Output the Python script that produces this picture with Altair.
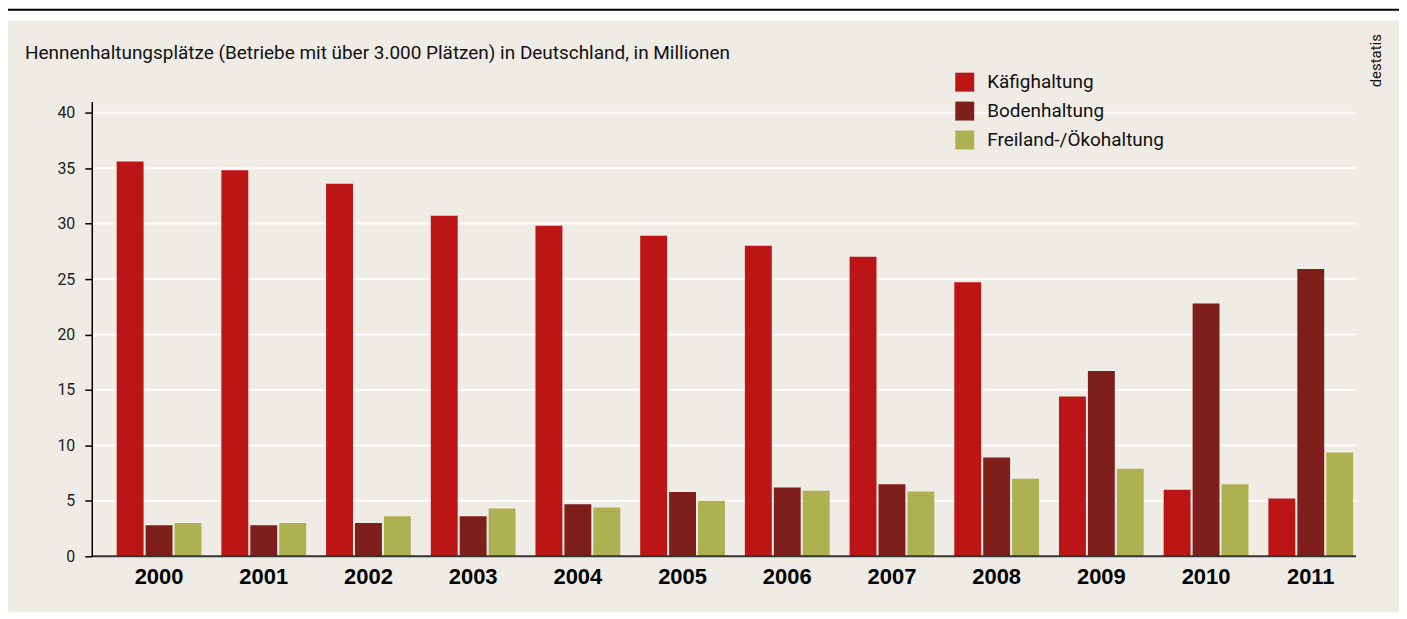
import altair as alt
import pandas as pd

years = ["2000", "2001", "2002", "2003", "2004", "2005", "2006", "2007", "2008", "2009", "2010", "2011"]
series = ["Käfighaltung", "Bodenhaltung", "Freiland-/Ökohaltung"]
kaefig = [35.6, 34.8, 33.6, 30.7, 29.8, 28.9, 28.0, 27.0, 24.7, 14.4, 6.0, 5.2]
boden = [2.8, 2.8, 3.0, 3.6, 4.7, 5.8, 6.2, 6.5, 8.9, 16.7, 22.8, 25.9]
freiland = [3.0, 3.0, 3.6, 4.3, 4.4, 5.0, 5.9, 5.85, 7.0, 7.9, 6.5, 9.35]
colors = ["#BC1515", "#7F1F1C", "#AEB152"]
y_ticks = [0, 5, 10, 15, 20, 25, 30, 35, 40]
grid_vals = [5, 10, 15, 20, 25, 30, 35, 40]

title_text = "Hennenhaltungsplätze (Betriebe mit über 3.000 Plätzen) in Deutschland, in Millionen"
source_text = "destatis"

rows = []
for i, y in enumerate(years):
    for s, vals in zip(series, [kaefig, boden, freiland]):
        rows.append({"Jahr": y, "Haltung": s, "Wert": vals[i]})
df = pd.DataFrame(rows)

W, H = 1260, 456
BG = "#EFEBE5"
FONT = "Roboto"

yscale = alt.Scale(domain=[0, 41], nice=False, zero=True)


def yaxis():
    return alt.Axis(title=None, values=y_ticks, grid=False, offset=15,
                    domainColor="#000000", domainWidth=1.5,
                    tickColor="#000000", tickWidth=1.5, tickSize=7,
                    labelFont=FONT, labelFontSize=16, labelColor="#222222",
                    labelPadding=10, zindex=1)


one = pd.DataFrame({"a": [0]})

panel = alt.Chart(one).mark_rect(color=BG).encode(
    x=alt.value(-101), x2=alt.value(1296), y=alt.value(-81), y2=alt.value(512)
)
topline = alt.Chart(one).mark_rule(color="#000000", strokeWidth=2).encode(
    x=alt.value(-99), x2=alt.value(1296), y=alt.value(-92)
)

grid = alt.Chart(pd.DataFrame({"Wert": grid_vals})).mark_rule(color="#FFFFFF", strokeWidth=2).encode(
    y=alt.Y("Wert:Q", scale=yscale, axis=yaxis()),
    x=alt.value(-14), x2=alt.value(1253),
)

bars = alt.Chart(df).mark_bar().encode(
    x=alt.X("Jahr:N", sort=years,
            scale=alt.Scale(paddingInner=0.1905, paddingOuter=0.0952),
            axis=alt.Axis(title=None, domain=False, ticks=False, labelAngle=0,
                          labelFont="Liberation Sans", labelFontWeight="bold",
                          labelFontSize=22, labelColor="#000000", labelPadding=10, zindex=1)),
    xOffset=alt.XOffset("Haltung:N", sort=series, scale=alt.Scale(paddingInner=0.07, paddingOuter=0)),
    y=alt.Y("Wert:Q", scale=yscale, axis=yaxis()),
    color=alt.Color("Haltung:N", sort=series,
                    scale=alt.Scale(domain=series, range=colors),
                    legend=alt.Legend(title=None, orient="none", legendX=851, legendY=-29,
                                      symbolType="square", symbolSize=361, symbolStrokeWidth=0,
                                      labelFont=FONT, labelFontSize=19, labelColor="#111111",
                                      labelLimit=0, labelOffset=13, rowPadding=9, padding=0)),
)

baseline = alt.Chart(pd.DataFrame({"Wert": [0]})).mark_rule(color="#333333", strokeWidth=2).encode(
    y=alt.Y("Wert:Q", scale=yscale, axis=yaxis()),
    x=alt.value(-15), x2=alt.value(1253),
)

title = alt.Chart(one).mark_text(
    text=title_text, align="left", baseline="alphabetic", font=FONT, fontSize=19, color="#111111"
).encode(x=alt.value(-82), y=alt.value(-43))

source = alt.Chart(one).mark_text(
    text=source_text, align="center", baseline="middle", font=FONT, fontSize=15,
    color="#111111", angle=270
).encode(x=alt.value(1273), y=alt.value(-41))

chart = alt.layer(panel, topline, grid, bars, baseline, title, source).properties(
    width=W, height=H,
    autosize=alt.AutoSizeParams(type="none"),
    padding={"left": 99, "top": 93, "right": 36, "bottom": 56},
    background="#FFFFFF",
).configure_view(strokeWidth=0)

chart.save("out.html", embed_options={"renderer": "svg", "actions": False})
